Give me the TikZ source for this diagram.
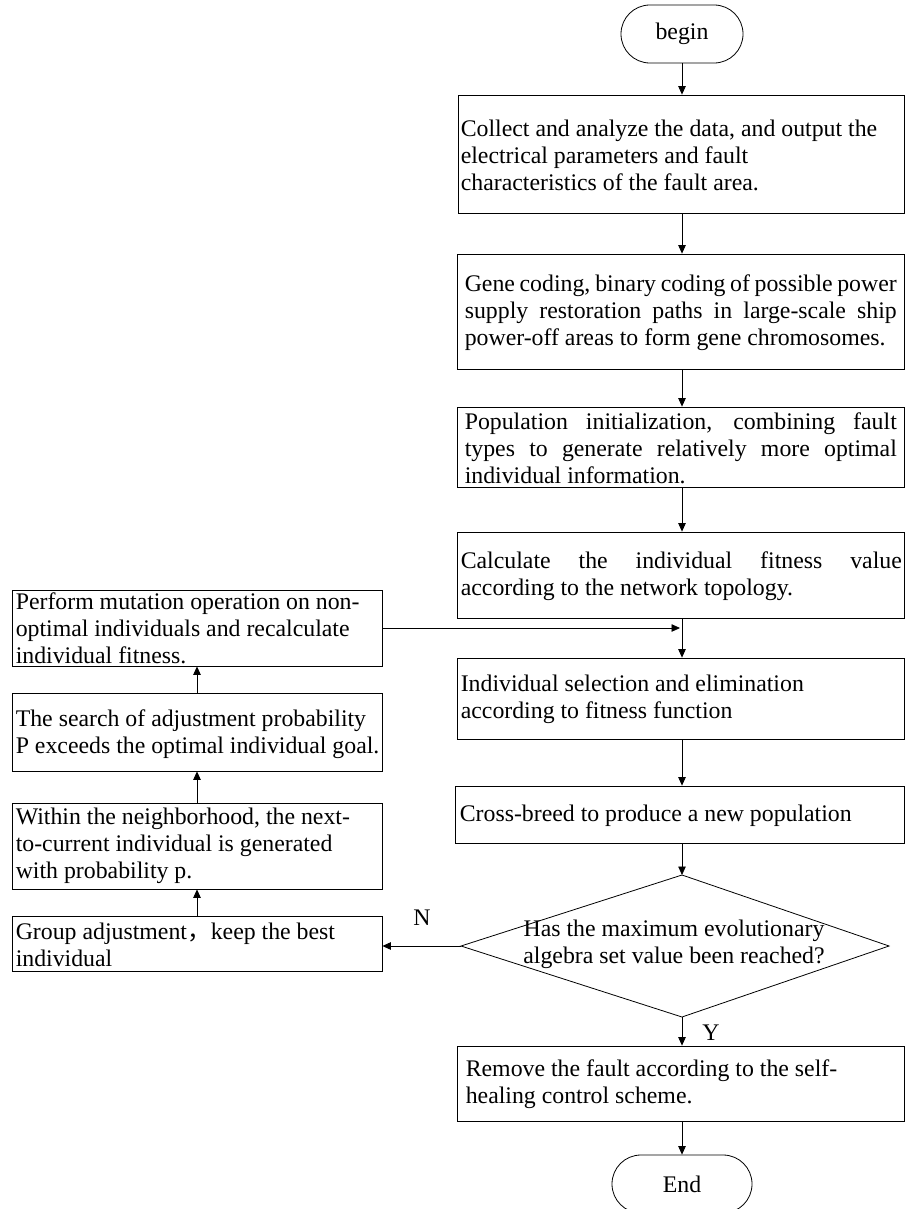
\documentclass[tikz,border=0pt]{standalone}
\usepackage{fontspec}
\setmainfont{Liberation Serif}
\newfontfamily\cjk{Noto Sans CJK SC}
\usetikzlibrary{arrows.meta,calc}
\newcommand\fs{\fontsize{23.8}{27}\selectfont}
\newcommand\jl[2]{\makebox[#1pt][s]{#2}}
\begin{document}
\begin{tikzpicture}[x=1pt,y=-1pt,
  box/.style={draw, line width=0.8pt, inner sep=0pt},
  term/.style={draw, line width=0.8pt, inner sep=0pt, rounded corners=28.9pt, minimum height=58pt, font=\fs},
  txt/.style={anchor=west, inner sep=0pt, align=left, font=\fs},
  lbl/.style={inner sep=0pt, font=\fs},
  arr/.style={-{Triangle[length=8.5pt,width=7.5pt]}, line width=0.8pt}]
\useasboundingbox (0,0) rectangle (905,1209);
\clip (0,0) rectangle (905,1209);

\coordinate (ax) at (682,0);
\coordinate (lx) at (197,0);

% right column
\node[term, minimum width=122pt] (begin) at (682,34) {begin};
\node[box, minimum width=446pt, minimum height=118pt] (b1) at (681,154) {};
\node[box, minimum width=447pt, minimum height=115pt] (b2) at (680.5,311.5) {};
\node[box, minimum width=447pt, minimum height=80pt] (b3) at (680.5,447) {};
\node[box, minimum width=447pt, minimum height=86pt] (b4) at (680.5,575) {};
\node[box, minimum width=447pt, minimum height=81pt] (b5) at (680.5,698.5) {};
\node[box, minimum width=449pt, minimum height=57pt] (b6) at (679.5,814.5) {};
\coordinate (dtop) at (682,875);
\coordinate (dright) at (889,946);
\coordinate (dbottom) at (682,1017);
\coordinate (dleft) at (461,946);
\draw[line width=0.8pt] (dtop) -- (dright) -- (dbottom) -- (dleft) -- cycle;
\node[lbl, align=center] (dq) at (674,944) {Has the maximum evolutionary\\algebra set value been reached?};
\node[box, minimum width=447pt, minimum height=75pt] (b7) at (680.5,1083.5) {};
\node[term, minimum width=140pt] (end) at (682,1184) {End};

% left column
\node[box, minimum width=370pt, minimum height=76pt] (mut) at (197,628) {};
\node[box, minimum width=370pt, minimum height=78pt] (srch) at (197,732) {};
\node[box, minimum width=370pt, minimum height=86pt] (with) at (197,846) {};
\node[box, minimum width=370pt, minimum height=55pt] (grp) at (197,943.5) {};

% texts
\node[txt] (t1) at ($(b1.west)+(3,1)$) {Collect and analyze the data, and output the\\electrical parameters and fault\\characteristics of the fault area.};
\node[txt] (t2) at ($(b2.west)+(8,1)$) {\jl{432}{Gene coding, binary coding of possible power}\\\jl{432}{supply restoration paths in large-scale ship}\\power-off areas to form gene chromosomes.};
\node[txt] (t3) at ($(b3.west)+(8,1)$) {\jl{432}{Population initialization, combining fault}\\\jl{432}{types to generate relatively more optimal}\\individual information.};
\node[txt] (t4) at ($(b4.west)+(4,1)$) {\jl{441}{Calculate the individual fitness value}\\according to the network topology.};
\node[txt] (t5) at ($(b5.west)+(4,1)$) {Individual selection and elimination\\according to fitness function};
\node[txt] (t6) at ($(b6.west)+(5,1)$) {Cross-breed to produce a new population};
\node[txt] (t7) at ($(b7.west)+(9,1)$) {Remove the fault according to the self-\\healing control scheme.};
\node[txt] (tm) at ($(mut.west)+(4,0)$) {Perform mutation operation on non-\\optimal individuals and recalculate\\individual fitness.};
\node[txt] (ts) at ($(srch.west)+(4,2)$) {The search of adjustment probability\\P exceeds the optimal individual goal.};
\node[txt] (tw) at ($(with.west)+(4,0)$) {Within the neighborhood, the next-\\to-current individual is generated\\with probability p.};
\node[txt] (tg) at ($(grp.west)+(4,1)$) {Group adjustment{\cjk ，}keep the best\\individual};

\node[lbl] (N) at (422,918) {N};
\node[lbl] (Y) at (711,1033) {Y};

% connectors
\draw[arr] (begin.south) -- (begin.south |- b1.north);
\draw[arr] (b1.south -| ax) -- (b2.north -| ax);
\draw[arr] (b2.south -| ax) -- (b3.north -| ax);
\draw[arr] (b3.south -| ax) -- (b4.north -| ax);
\draw[arr] (b4.south -| ax) -- (b5.north -| ax);
\draw[arr] (b5.south -| ax) -- (b6.north -| ax);
\draw[arr] (b6.south -| ax) -- (dtop);
\draw[arr] (dbottom) -- (dbottom |- b7.north);
\draw[arr] (b7.south -| ax) -- (end.north);
\draw[arr] (dleft) -- (dleft -| grp.east);
\draw[arr] (grp.north) -- (with.south);
\draw[arr] (with.north) -- (srch.south);
\draw[arr] (srch.north) -- (mut.south);
\draw[arr] (mut.east) -- ([xshift=-2pt]mut.east -| ax);
\end{tikzpicture}
\end{document}
